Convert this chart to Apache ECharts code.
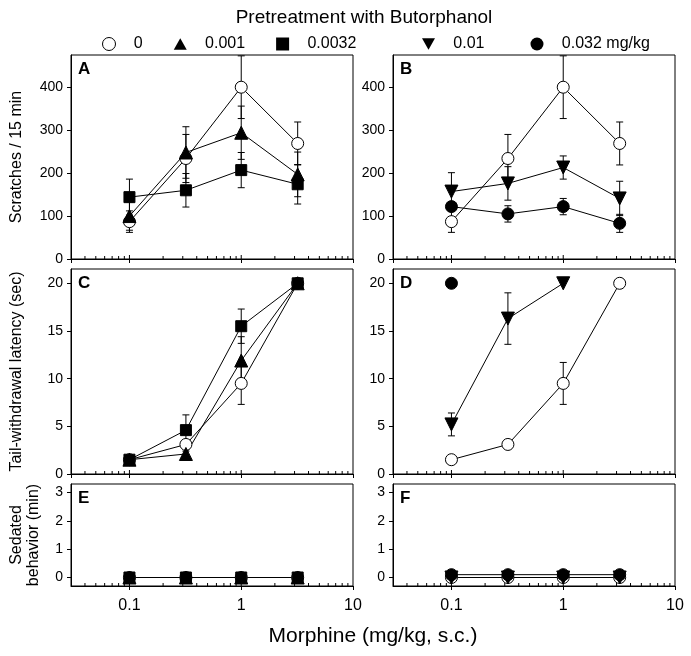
<!DOCTYPE html>
<html>
<head>
<meta charset="utf-8">
<script src="https://cdn.jsdelivr.net/npm/echarts@6/dist/echarts.min.js"></script>
<style>
  html, body { margin: 0; padding: 0; background: #fff; }
  #chart { width: 691px; height: 656px; }
</style>
</head>
<body>
<div id="chart"></div>
<script>
// morphine doses (mg/kg)
const doses = [0.1, 0.32, 1, 3.2];
const groupNames = ['0', '0.001', '0.0032', '0.01', '0.032 mg/kg'];

// scratches / 15 min (A, B)
const scratchVeh = [87, 234, 400, 269];
const scratchVehErr = [25, 56, 73, 50];
const scratchB001 = [100, 248, 294, 197];
const scratchB001Err = [33, 60, 62, 52];
const scratchB0032 = [144, 160, 207, 174];
const scratchB0032Err = [42, 39, 41, 46];
const scratchB01 = [157, 176, 213, 141];
const scratchB01Err = [44, 39, 27, 40];
const scratchB032 = [122, 105, 122, 83];
const scratchB032Err = [10, 19, 19, 21];

// tail-withdrawal latency, sec (C, D)
const tailVeh = [1.5, 3.1, 9.5, 20];
const tailVehErr = [0.2, 0.3, 2.2, 0];
const tailB001 = [1.5, 2.1, 11.9, 20];
const tailB001Err = [0.2, 0.3, 2.5, 0];
const tailB0032 = [1.5, 4.6, 15.5, 20];
const tailB0032Err = [0.2, 1.6, 1.8, 0];
const tailB01 = [5.2, 16.3, 20, null];
const tailB01Err = [1.2, 2.7, 0, 0];
const tailB032 = [20, null, null, null];
const tailB032Err = [0, 0, 0, 0];

// sedated behavior, min (E, F)
const sedVeh = [0, 0, 0, 0];
const sedB001 = [0, 0, 0, 0];
const sedB0032 = [0, 0, 0, 0];
const sedB01 = [0, 0, 0, 0];
const sedB032 = [0.1, 0.1, 0.1, 0.1];
const noErr = [0, 0, 0, 0];

// significance asterisks [dose, y]
const starsA = [[1, 232]];
const starsB = [[1, 240], [3.2, 164], [1, 143], [3.2, 105]];

// axis ticks
const xMinor = [0.04, 0.05, 0.06, 0.07, 0.08, 0.09, 0.2, 0.3, 0.4, 0.5, 0.6, 0.7, 0.8, 0.9, 2, 3, 4, 5, 6, 7, 8, 9];
const yTicksScratch = [0, 100, 200, 300, 400];
const yTicksTail = [0, 5, 10, 15, 20];
const yTicksSed = [0, 1, 2, 3];

const cols = [71, 393];
const colWidth = 282;
const rows = [[55, 204], [269, 205], [484, 102]];
const yRanges = [[0, 475], [0, 21.5], [-0.3, 3.3]];
const yTicks = [yTicksScratch, yTicksTail, yTicksSed];
const yNames = ['Scratches / 15 min', 'Tail-withdrawal latency (sec)', 'Sedated\nbehavior (min)'];
const yNameGaps = [46, 46, 29];
const letters = [['A', 'B'], ['C', 'D'], ['E', 'F']];

const styles = {
  '0': { symbol: 'circle', size: 12, fill: '#fff' },
  '0.001': { symbol: 'triangle', size: 13, fill: '#000' },
  '0.0032': { symbol: 'rect', size: 11, fill: '#000' },
  '0.01': { symbol: 'triangle', size: 13, fill: '#000', rotate: 180 },
  '0.032 mg/kg': { symbol: 'circle', size: 12, fill: '#000' }
};

const chart = echarts.init(document.getElementById('chart'));

const grids = [], xAxes = [], yAxes = [], series = [], graphics = [];

for (let r = 0; r < 3; r++) {
  for (let c = 0; c < 2; c++) {
    const g = grids.length;
    grids.push({
      left: cols[c], top: rows[r][0], width: colWidth, height: rows[r][1],
      show: true, borderColor: '#000', borderWidth: 1, backgroundColor: 'transparent'
    });
    xAxes.push({
      type: 'log', logBase: 10, gridIndex: g, min: 0.03, max: 10,
      axisLine: { show: true, onZero: false, lineStyle: { color: '#000', width: 1 } },
      axisTick: { show: true, length: 4, lineStyle: { color: '#000' } },
      axisLabel: {
        show: r === 2, showMinLabel: false, fontSize: 16, color: '#000', margin: 12,
        fontFamily: 'Liberation Sans',
        formatter: function (v) { return String(+(+v).toPrecision(3)); }
      },
      splitLine: { show: false }
    });
    yAxes.push({
      type: 'value', gridIndex: g, min: yRanges[r][0], max: yRanges[r][1],
      axisLine: { show: true, onZero: false, lineStyle: { color: '#000', width: 1 } },
      axisTick: { show: true, length: 4, customValues: yTicks[r], lineStyle: { color: '#000' } },
      axisLabel: { customValues: yTicks[r], fontSize: 14, color: '#000', margin: 8, fontFamily: 'Liberation Sans' },
      splitLine: { show: false },
      name: c === 0 ? yNames[r] : '',
      nameLocation: 'middle', nameGap: yNameGaps[r],
      nameTextStyle: { fontSize: 16, color: '#000', fontFamily: 'Liberation Sans', lineHeight: 17 }
    });
    graphics.push({
      type: 'text', left: cols[c] + 7, top: rows[r][0] + 6,
      style: { text: letters[r][c], font: 'bold 17px "Liberation Sans"', fill: '#000' }
    });
    // inward minor ticks on the log axis
    series.push({
      type: 'custom', xAxisIndex: g, yAxisIndex: g, silent: true,
      data: xMinor.map(v => [v, yRanges[r][0]]),
      renderItem: function (params, api) {
        const x = api.coord([api.value(0), api.value(1)])[0];
        const yb = params.coordSys.y + params.coordSys.height;
        return { type: 'line', shape: { x1: x, y1: yb, x2: x, y2: yb - 3 }, style: { stroke: '#000', lineWidth: 1 } };
      },
      z: 1
    });
    series.push({
      type: 'custom', xAxisIndex: g, yAxisIndex: g, silent: true,
      data: [0.1, 1].map(v => [v, yRanges[r][0]]),
      renderItem: function (params, api) {
        const x = api.coord([api.value(0), api.value(1)])[0];
        const yb = params.coordSys.y + params.coordSys.height;
        return { type: 'line', shape: { x1: x, y1: yb, x2: x, y2: yb - 4 }, style: { stroke: '#000', lineWidth: 1 } };
      },
      z: 1
    });
  }
}

function renderErr(params, api) {
  const x = api.value(0), y = api.value(1), e = api.value(2);
  const top = api.coord([x, y + e]);
  const bot = api.coord([x, y - e]);
  const cap = 3.5;
  const style = { stroke: '#000', lineWidth: 1 };
  return {
    type: 'group', children: [
      { type: 'line', shape: { x1: top[0], y1: top[1], x2: bot[0], y2: bot[1] }, style: style },
      { type: 'line', shape: { x1: top[0] - cap, y1: top[1], x2: top[0] + cap, y2: top[1] }, style: style },
      { type: 'line', shape: { x1: bot[0] - cap, y1: bot[1], x2: bot[0] + cap, y2: bot[1] }, style: style }
    ]
  };
}

function addGroup(g, name, vals, errs) {
  const st = styles[name];
  const errData = [];
  doses.forEach((d, i) => {
    if (vals[i] != null && errs[i] > 0) errData.push([d, vals[i], errs[i]]);
  });
  series.push({
    type: 'custom', xAxisIndex: g, yAxisIndex: g, silent: true,
    renderItem: renderErr, data: errData, z: 2, clip: true
  });
  series.push({
    type: 'line', name: name, xAxisIndex: g, yAxisIndex: g,
    data: doses.map((d, i) => [d, vals[i]]),
    symbol: st.symbol, symbolSize: st.size, symbolRotate: st.rotate || 0,
    showSymbol: true, showAllSymbol: true, connectNulls: false,
    lineStyle: { color: '#000', width: 1 },
    itemStyle: { color: st.fill, borderColor: '#000', borderWidth: 1 },
    z: 3
  });
}

function addStars(g, pts) {
  series.push({
    type: 'scatter', xAxisIndex: g, yAxisIndex: g, silent: true,
    data: pts, symbolSize: 1, itemStyle: { opacity: 0 },
    label: { show: true, formatter: '*', position: 'inside', offset: [9, 3], color: '#777', fontSize: 17, fontFamily: 'Liberation Sans' },
    z: 4
  });
}

// A
addGroup(0, '0', scratchVeh, scratchVehErr);
addGroup(0, '0.001', scratchB001, scratchB001Err);
addGroup(0, '0.0032', scratchB0032, scratchB0032Err);
addStars(0, starsA);
// B
addGroup(1, '0', scratchVeh, scratchVehErr);
addGroup(1, '0.01', scratchB01, scratchB01Err);
addGroup(1, '0.032 mg/kg', scratchB032, scratchB032Err);
addStars(1, starsB);
// C
addGroup(2, '0', tailVeh, tailVehErr);
addGroup(2, '0.001', tailB001, tailB001Err);
addGroup(2, '0.0032', tailB0032, tailB0032Err);
// D
addGroup(3, '0', tailVeh, tailVehErr);
addGroup(3, '0.01', tailB01, tailB01Err);
addGroup(3, '0.032 mg/kg', tailB032, tailB032Err);
// E
addGroup(4, '0', sedVeh, noErr);
addGroup(4, '0.001', sedB001, noErr);
addGroup(4, '0.0032', sedB0032, noErr);
// F
addGroup(5, '0', sedVeh, noErr);
addGroup(5, '0.01', sedB01, noErr);
addGroup(5, '0.032 mg/kg', sedB032, noErr);

graphics.push({
  type: 'text', x: 364, y: 18,
  style: { text: 'Pretreatment with Butorphanol', font: '19px "Liberation Sans"', fill: '#000', align: 'center', verticalAlign: 'middle' }
});
graphics.push({
  type: 'text', x: 373, y: 636,
  style: { text: 'Morphine (mg/kg, s.c.)', font: '21px "Liberation Sans"', fill: '#000', align: 'center', verticalAlign: 'middle' }
});

const legendText = { fontSize: 16, color: '#000', fontFamily: 'Liberation Sans' };
const upTri = 'path://M5,0L10,9L0,9Z';
const downTri = 'path://M0,0L10,0L5,9Z';
const padName = function (name) { return '   ' + name; };

const option = {
  animation: false,
  grid: grids,
  xAxis: xAxes,
  yAxis: yAxes,
  legend: [
    {
      left: 97, top: 31, itemWidth: 13, itemHeight: 13, itemGap: 31, selectedMode: false,
      textStyle: legendText, formatter: padName,
      data: [
        { name: '0', icon: 'circle', itemStyle: { color: '#fff', borderColor: '#000', borderWidth: 1 } },
        { name: '0.001', icon: upTri, itemStyle: { color: '#000', borderWidth: 0 } },
        { name: '0.0032', icon: 'rect', itemStyle: { color: '#000', borderWidth: 0 } }
      ]
    },
    {
      left: 417, top: 31, itemWidth: 13, itemHeight: 13, itemGap: 46, selectedMode: false,
      textStyle: legendText, formatter: padName,
      data: [
        { name: '0.01', icon: downTri, itemStyle: { color: '#000', borderWidth: 0 } },
        { name: '0.032 mg/kg', icon: 'circle', itemStyle: { color: '#000', borderWidth: 0 } }
      ]
    }
  ],
  graphic: graphics,
  series: series
};

chart.setOption(option);
</script>
</body>
</html>
